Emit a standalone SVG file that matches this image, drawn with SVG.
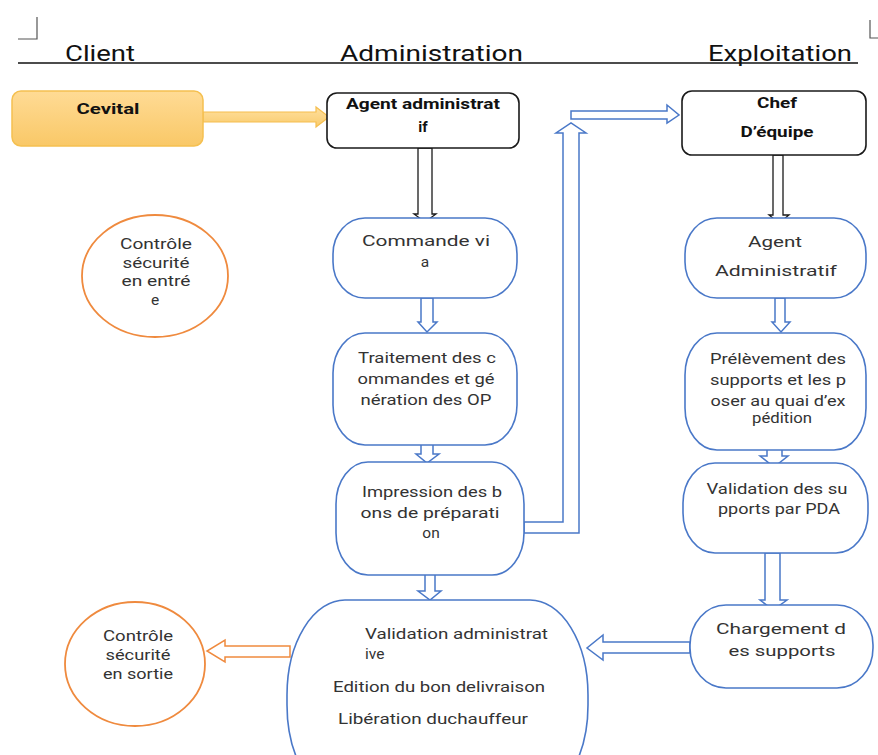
<svg xmlns="http://www.w3.org/2000/svg" width="878" height="755" viewBox="0 0 878 755">
<defs>
<linearGradient id="gOr" x1="0" y1="0" x2="0" y2="1">
<stop offset="0" stop-color="#ffdb95"/>
<stop offset="1" stop-color="#f9c867"/>
</linearGradient>
<linearGradient id="gArr" x1="0" y1="0" x2="0" y2="1">
<stop offset="0" stop-color="#ffe0a0"/>
<stop offset="1" stop-color="#f9cb6c"/>
</linearGradient>
</defs>
<style>
.hdr{font-family:Roboto,"Liberation Sans",sans-serif;font-size:22px;fill:#111}
.t{font-family:Roboto,"Liberation Sans",sans-serif;font-size:15.5px;fill:#333;text-anchor:middle}
.tl{font-family:Roboto,"Liberation Sans",sans-serif;font-size:15.5px;fill:#333}
.b{font-family:Roboto,"Liberation Sans",sans-serif;font-size:15px;font-weight:bold;fill:#111;text-anchor:middle}
.blue{fill:#fff;stroke:#4a78c8;stroke-width:1.6}
.blk{fill:#fff;stroke:#1a1a1a;stroke-width:1.6}
.org{fill:#fff;stroke:#ef8a3e;stroke-width:1.8}
.ab{fill:#fff;stroke:#4a78c8;stroke-width:1.5}
.ak{fill:#fff;stroke:#1a1a1a;stroke-width:1.3}
.ao{fill:#fff;stroke:#ef8a3e;stroke-width:1.5}
</style>
<rect width="878" height="755" fill="#fff"/>
<g id="header">
<path d="M18 39 H37 V17" fill="none" stroke="#555" stroke-width="1.2"/>
<path d="M870 20 V38 H878" fill="none" stroke="#555" stroke-width="1.2"/>
<line x1="18" y1="63" x2="858" y2="63" stroke="#111" stroke-width="1.3"/>
<text class="hdr" x="65" y="61" textLength="70" lengthAdjust="spacingAndGlyphs">Client</text>
<text class="hdr" x="340" y="61" textLength="183" lengthAdjust="spacingAndGlyphs">Administration</text>
<text class="hdr" x="708" y="61" textLength="144" lengthAdjust="spacingAndGlyphs">Exploitation</text>
</g>
<g id="connectors">
<polygon points="203,112 316,112 316,107 329,117 316,127 316,122 203,122" fill="url(#gArr)" stroke="#f5be4f" stroke-width="1.2"/>
<polygon class="ak" points="418,148 432,148 432,214 436,214 425,222 414,214 418,214"/>
<polygon class="ak" points="773,155 783,155 783,215 789,215 779,223 769,215 773,215"/>
<polygon class="ab" points="421,298 433,298 433,322 437,322 427,332 418,322 421,322"/>
<polygon class="ab" points="421,441 433,441 433,454 439,454 427,463 416,454 421,454"/>
<polygon class="ab" points="425,570 435,570 435,591 441,591 430,600 418,591 425,591"/>
<polygon class="ab" points="775,298 785,298 785,322 790,322 781,332 772,322 775,322"/>
<polygon class="ab" points="767,447 782,447 782,456 788,456 774,467 760,456 767,456"/>
<polygon class="ab" points="765,553 780,553 780,600 787,600 773,610 760,600 765,600"/>
<polygon class="ab" points="690,642 603,642 603,635 587,648 603,660 603,653 690,653"/>
<polygon class="ao" points="290,646 225,646 225,640 207,651 225,662 225,657 290,657"/>
<polygon class="ab" points="524,522 563,522 563,133 556,133 571,123 586,133 579,133 579,533 524,533"/>
<polygon class="ab" points="571,111 667,111 667,105 679,115 667,123 667,119 571,119"/>
</g>
<g id="cevital">
<rect x="12" y="91" width="191" height="55" rx="9" fill="url(#gOr)" stroke="#f5c050" stroke-width="1.5"/>
<text class="b" x="108" y="114" textLength="63" lengthAdjust="spacingAndGlyphs">Cevital</text>
</g>
<g id="agent-administratif">
<rect class="blk" x="327" y="93" width="192" height="55" rx="10"/>
<text class="b" x="423" y="109" textLength="154" lengthAdjust="spacingAndGlyphs">Agent administrat</text>
<text class="b" x="423" y="132">if</text>
</g>
<g id="chef-equipe">
<rect class="blk" x="682" y="91" width="184" height="64" rx="10"/>
<text class="b" x="777" y="108" textLength="40" lengthAdjust="spacingAndGlyphs">Chef</text>
<text class="b" x="777" y="137" textLength="73" lengthAdjust="spacingAndGlyphs">D’équipe</text>
</g>
<g id="controle-entree">
<ellipse class="org" cx="155" cy="276" rx="73" ry="61"/>
<text class="t" x="156" y="249" textLength="72" lengthAdjust="spacingAndGlyphs">Contrôle</text>
<text class="t" x="156" y="268" textLength="67" lengthAdjust="spacingAndGlyphs">sécurité</text>
<text class="t" x="156" y="286" textLength="69" lengthAdjust="spacingAndGlyphs">en entré</text>
<text class="t" x="155" y="305">e</text>
</g>
<g id="commande-via">
<rect class="blue" x="333" y="218" width="184" height="80" rx="32" ry="36"/>
<text class="t" x="426" y="246" textLength="128" lengthAdjust="spacingAndGlyphs">Commande vi</text>
<text class="t" x="425" y="267">a</text>
</g>
<g id="traitement">
<rect class="blue" x="333" y="333" width="184" height="112" rx="32" ry="40"/>
<text class="t" x="427" y="363" textLength="138" lengthAdjust="spacingAndGlyphs">Traitement des c</text>
<text class="t" x="426" y="384" textLength="137" lengthAdjust="spacingAndGlyphs">ommandes et gé</text>
<text class="t" x="426" y="405" textLength="131" lengthAdjust="spacingAndGlyphs">nération des OP</text>
</g>
<g id="impression">
<rect class="blue" x="336" y="462" width="188" height="113" rx="32" ry="42"/>
<text class="t" x="432" y="497" textLength="140" lengthAdjust="spacingAndGlyphs">Impression des b</text>
<text class="t" x="430" y="518" textLength="139" lengthAdjust="spacingAndGlyphs">ons de préparati</text>
<text class="t" x="431" y="538">on</text>
</g>
<g id="agent-administratif-exploitation">
<rect class="blue" x="685" y="218" width="181" height="80" rx="32" ry="36"/>
<text class="t" x="775" y="247" textLength="54" lengthAdjust="spacingAndGlyphs">Agent</text>
<text class="t" x="776" y="276" textLength="122" lengthAdjust="spacingAndGlyphs">Administratif</text>
</g>
<g id="prelevement">
<rect class="blue" x="685" y="333" width="181" height="117" rx="32" ry="42"/>
<text class="t" x="778" y="364" textLength="136" lengthAdjust="spacingAndGlyphs">Prélèvement des</text>
<text class="t" x="778" y="385" textLength="136" lengthAdjust="spacingAndGlyphs">supports et les p</text>
<text class="t" x="778" y="406" textLength="135" lengthAdjust="spacingAndGlyphs">oser au quai d’ex</text>
<text class="t" x="782" y="423" textLength="60" lengthAdjust="spacingAndGlyphs">pédition</text>
</g>
<g id="validation-supports">
<rect class="blue" x="683" y="463" width="185" height="90" rx="32" ry="40"/>
<text class="t" x="777" y="494" textLength="141" lengthAdjust="spacingAndGlyphs">Validation des su</text>
<text class="t" x="779" y="514" textLength="122" lengthAdjust="spacingAndGlyphs">pports par PDA</text>
</g>
<g id="chargement">
<rect class="blue" x="690" y="605" width="183" height="83" rx="36" ry="40"/>
<text class="t" x="781" y="634" textLength="130" lengthAdjust="spacingAndGlyphs">Chargement d</text>
<text class="t" x="782" y="656" textLength="107" lengthAdjust="spacingAndGlyphs">es supports</text>
</g>
<g id="validation-administrative">
<rect class="blue" x="287" y="600" width="301" height="200" rx="58" ry="95"/>
<text class="tl" x="365" y="639" textLength="183" lengthAdjust="spacingAndGlyphs">Validation administrat</text>
<text class="tl" x="365" y="659">ive</text>
<text class="tl" x="333" y="692" textLength="212" lengthAdjust="spacingAndGlyphs">Edition du bon delivraison</text>
<text class="tl" x="338" y="724" textLength="190" lengthAdjust="spacingAndGlyphs">Libération duchauffeur</text>
</g>
<g id="controle-sortie">
<ellipse class="org" cx="135" cy="664" rx="70" ry="62"/>
<text class="t" x="138" y="641" textLength="70" lengthAdjust="spacingAndGlyphs">Contrôle</text>
<text class="t" x="138" y="660" textLength="65" lengthAdjust="spacingAndGlyphs">sécurité</text>
<text class="t" x="138" y="679" textLength="70" lengthAdjust="spacingAndGlyphs">en sortie</text>
</g>
</svg>
